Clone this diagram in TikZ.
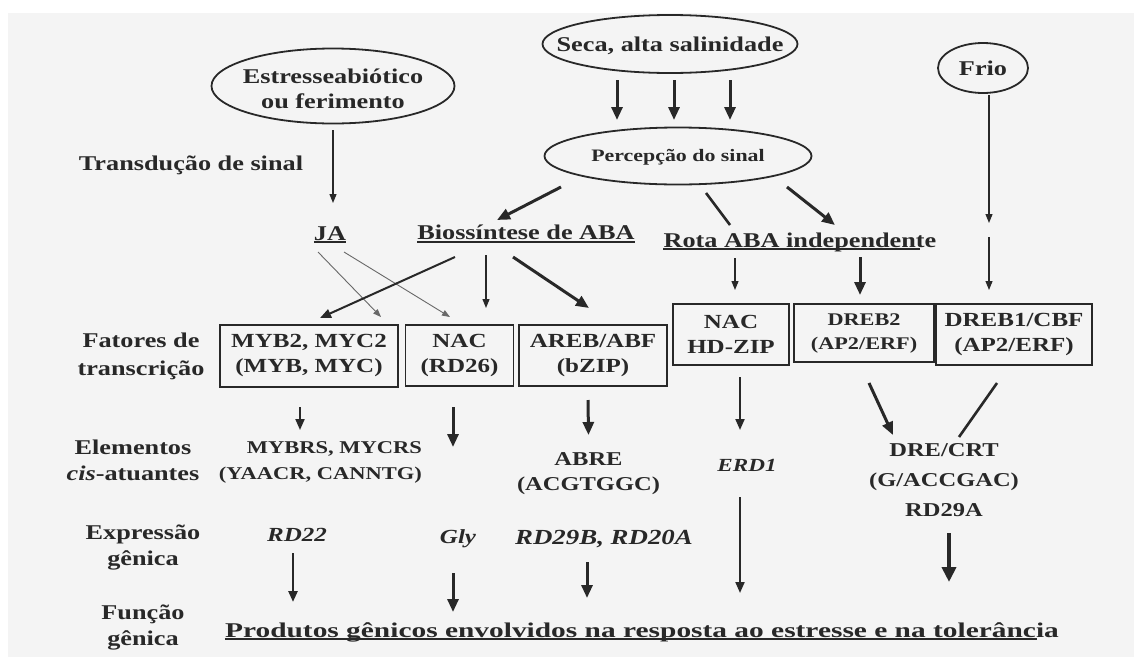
\documentclass[tikz,border=0pt]{standalone}
\usepackage{fontspec}
\setmainfont{Liberation Serif}[FakeStretch=1.25]
\newfontfamily\widefont{Liberation Serif}[FakeStretch=1.4]
\usetikzlibrary{arrows.meta,calc}
\definecolor{bg}{RGB}{244,244,244}
\definecolor{ink}{RGB}{40,40,40}
\tikzset{
  txt/.style={inner sep=0pt, text=ink, align=center, font=\fontsize{21}{26}\selectfont\bfseries},
  one/.style={text height=#1, text depth=0pt},
  one/.default=14pt,
  ovalline/.style={draw=ink, line width=1.8pt},
  tbox/.style={draw=ink, line width=1.5pt, inner sep=0pt, text=ink, align=center, font=\fontsize{20}{25}\selectfont\bfseries},
  uline/.style={draw=ink, line width=1.4pt},
  thinarr/.style={draw=ink, line width=1.2pt, -{Triangle[length=9pt,width=7pt]}},
  hairarr/.style={draw=ink!70, line width=0.9pt, -{Triangle[length=8pt,width=6pt]}},
  medarr/.style={draw=ink, line width=2pt, -{Triangle[length=11pt,width=9pt]}},
  thickarr/.style={draw=ink, line width=3pt, -{Triangle[length=13pt,width=11pt]}},
  heavyarr/.style={draw=ink, line width=4.5pt, -{Triangle[length=15pt,width=14pt]}},
  bar/.style={draw=ink, line width=2.6pt},
}
\begin{document}
\begin{tikzpicture}[x=1pt,y=-1pt]
\useasboundingbox (0,0) rectangle (1134,659);
\fill[bg] (8,13) rectangle (1134,657);

% row labels
\node[txt,one] (trans) at (191,163) {Transdução de sinal};
\node[txt, font=\fontsize{21}{28}\selectfont\bfseries] (fat) at (141,356) {Fatores de\\transcrição};
\node[txt] (elem) at (133,460) {Elementos\\\textit{cis}-atuantes};
\node[txt] (expr) at (143,547) {Expressão\\gênica};
\node[txt] (func) at (143,627) {Função\\gênica};

% stimuli
\node[txt, font=\fontsize{21}{25}\selectfont\bfseries] (est) at (333,89) {Estresseabiótico\\ou ferimento};
\draw[ovalline] (333,86) ellipse [x radius=121.5pt, y radius=37.5pt];
\node[txt,one] (seca) at (670,44) {Seca, alta salinidade};
\draw[ovalline] (seca.center) ellipse [x radius=127.5pt, y radius=29pt];
\node[txt,one] (frio) at (983,68) {Frio};
\draw[ovalline] (frio.center) ellipse [x radius=45pt, y radius=25pt];
\node[txt,one=11.6pt, font=\fontsize{17.5}{21}\selectfont\bfseries] (perc) at (678,156) {Percepção do sinal};
\draw[ovalline] (perc.center) ellipse [x radius=133.5pt, y radius=28.5pt];

% pathways
\node[txt,one] (ja) at (330,233) {JA};
\node[txt,one] (bio) at (526,232) {Biossíntese de ABA};
\node[txt,one] (rota) at (800,240) {Rota ABA independente};
\coordinate (friomid) at (989,230);
\draw[uline] ([yshift=-2pt]ja.base west) -- ([yshift=-2pt]ja.base east);
\draw[uline] ([yshift=-3pt]bio.base west) -- ([yshift=-3pt]bio.base east);
\draw[uline, shorten >=17pt] ([yshift=-2pt]rota.base west) -- ([yshift=-2pt]rota.base east);

% transcription factors
\node[tbox, minimum width=178pt, minimum height=62pt] (myb) at (309,356) {MYB2, MYC2\\(MYB, MYC)};
\node[tbox, minimum width=108pt, minimum height=61pt] (nacrd) at (459.5,355.5) {NAC\\(RD26)};
\node[tbox, minimum width=148pt, minimum height=61pt] (areb) at (593,355.5) {AREB/ABF\\(bZIP)};
\node[tbox, minimum width=116pt, minimum height=61pt] (nachd) at (731,334.5) {NAC\\HD-ZIP};
\node[tbox, minimum width=140pt, minimum height=58pt, font=\fontsize{17.8}{24}\selectfont\bfseries] (dreb2) at (864,333) {DREB2\\(AP2/ERF)};
\node[tbox, minimum width=156pt, minimum height=61pt] (dreb1) at (1014,334.5) {DREB1/CBF\\(AP2/ERF)};

% cis elements
\node[txt, anchor=east, align=right, font=\fontsize{18}{26}\selectfont\bfseries] (mybel) at (422,462) {MYBRS, MYCRS\\(YAACR, CANNTG)};
\node[txt, font=\fontsize{19.6}{25}\selectfont\bfseries] (abre) at (588.5,474) {ABRE\\(ACGTGGC)};
\node[txt,one=12.2pt, font=\fontsize{18.5}{22}\selectfont\bfseries\itshape] (erd1) at (747,465) {ERD1};
\node[txt, font=\fontsize{19.6}{30}\selectfont\bfseries] (dre) at (944,480) {DRE/CRT\\(G/ACCGAC)\\RD29A};

% gene expression
\node[txt,one=13.3pt, font=\fontsize{20}{24}\selectfont\bfseries\itshape] (rd22) at (297,535) {RD22};
\node[txt,one=13.3pt, font=\fontsize{20}{24}\selectfont\bfseries\itshape] (gly) at (458,537) {Gly};
\node[txt,one=14.2pt, font=\fontsize{21.5}{26}\selectfont\bfseries\itshape] (rd29) at (604,537) {RD29B, RD20A};

% products
\node[txt,one, font=\widefont\fontsize{21}{26}\selectfont\bfseries] (prod) at (642,630) {Produtos gênicos envolvidos na resposta ao estresse e na tolerância};
\draw[uline, shorten >=22pt] ([yshift=-2pt]prod.base west) -- ([yshift=-2pt]prod.base east);

% connectors
\foreach \a/\b in {-53/-61, 4/-4, 60/52}
  \draw[thickarr] ($(seca)+(\a,36)$) -- ($(perc)+(\b,-36)$);
\draw[thinarr] ($(est)+(0,41)$) -- ($(ja)+(3,-30)$);
\draw[thickarr] ($(perc)+(-117,31)$) -- ($(bio)+(-29,-12)$);
\draw[bar] ($(perc)+(28,37)$) -- ($(rota)+(-70,-15)$);
\draw[thickarr] ($(perc)+(109,31)$) -- ($(rota)+(35,-15)$);
\draw[thinarr] ($(frio)+(6,27)$) -- ($(friomid)+(0,-7)$);
\draw[thinarr] ($(friomid)+(0,7)$) -- ($(dreb1)+(-25,-44.5)$);

\draw[hairarr] ($(ja)+(-12,19)$) -- ($(myb)+(72,-39)$);
\draw[hairarr] ($(ja)+(14,19)$) -- ($(nacrd)+(-9.5,-38.5)$);
\draw[medarr] ($(bio)+(-71,25)$) -- ($(myb)+(11,-38)$);
\draw[thinarr] ($(bio)+(-40,23)$) -- ($(nacrd)+(26.5,-47.5)$);
\draw[thickarr] ($(bio)+(-13,25)$) -- ($(areb)+(-4,-47.5)$);
\draw[thinarr] ($(rota)+(-65,18)$) -- ($(nachd)+(4,-44.5)$);
\draw[thickarr] ($(rota)+(60,17)$) -- ($(dreb2)+(-4,-38)$);

\draw[medarr] ($(myb)+(-9,51)$) -- ($(mybel.east)+(-122,-32)$);
\draw[thickarr] ($(nacrd)+(-6.5,51.5)$) -- ($(gly)+(-5,-90)$);
\draw[thickarr] ($(areb)+(-5,44.5)$) -- ($(abre)+(0,-39)$);
\draw[medarr] ($(nachd)+(9,42.5)$) -- ($(erd1)+(-7,-35)$);
\draw[thickarr] ($(dreb2)+(5,50)$) -- ($(dre)+(-51,-45)$);
\draw[bar] ($(dreb1)+(-17,48.5)$) -- ($(dre)+(15,-43)$);

\draw[medarr] ($(erd1)+(-7,32)$) -- ($(prod)+(98,-37)$);
\draw[medarr, line width=2.5pt] ($(rd22)+(-4,18)$) -- ($(prod)+(-349,-28)$);
\draw[thickarr] ($(gly)+(-5,36)$) -- ($(prod)+(-189,-18)$);
\draw[thickarr] ($(rd29)+(-17,25)$) -- ($(prod)+(-55,-32)$);
\draw[heavyarr] ($(dre)+(5,53)$) -- ($(prod)+(307,-48)$);
\end{tikzpicture}
\end{document}
